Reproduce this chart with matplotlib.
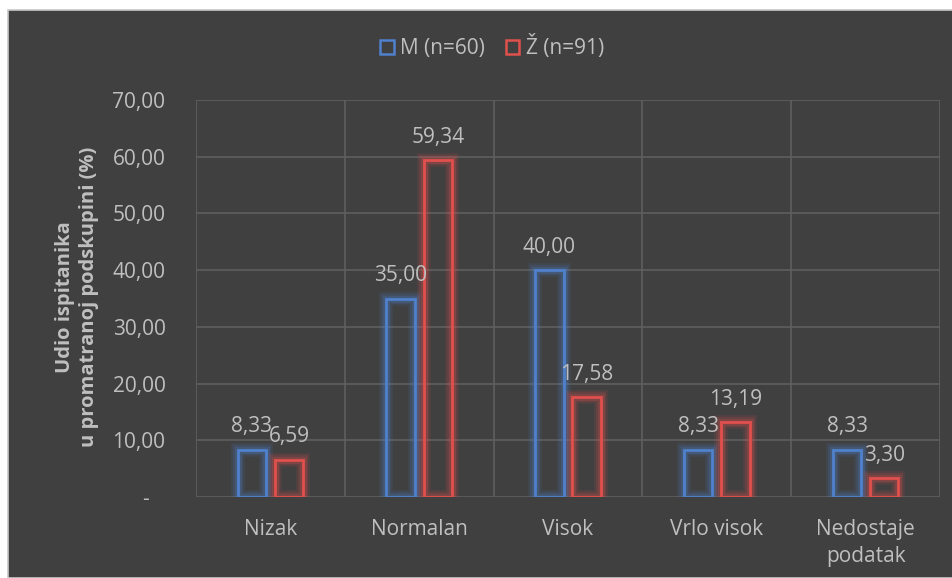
import matplotlib.pyplot as plt
import matplotlib.patches as pc
import numpy as np

kategorije = ["Nizak", "Normalan", "Visok", "Vrlo visok", "Nedostaje\npodatak"]
muski = [8.33, 35.00, 40.00, 8.33, 8.33]
zene = [6.59, 59.34, 17.58, 13.19, 3.30]
oznake = ["M (n=60)", "Ž (n=91)"]
y_ticks = [0, 10, 20, 30, 40, 50, 60, 70]

plt.rcParams['font.family'] = ['Open Sans', 'DejaVu Sans']

bg = '#404040'
txt = '#bfbfbf'
plava = '#4f81cc'
crvena = '#e0504c'
fs = 15

fig = plt.figure(figsize=(9.52, 5.78), dpi=100, facecolor='white')
# tamna pozadina s rubom
fig.add_artist(pc.Rectangle((8 / 952, 0), 1, 1 - 10 / 578, transform=fig.transFigure,
                            facecolor=bg, edgecolor='#c8c8c8', linewidth=1.2, zorder=-5))

ax = fig.add_axes([196 / 952, 81 / 578, 744 / 952, 397 / 578])
ax.patch.set_alpha(0)

x = np.arange(len(kategorije))
w = 0.19
off = 0.125

for vals, col, dx in [(muski, plava, -off), (zene, crvena, off)]:
    # sjaj oko stupaca
    for lw, a in [(10, 0.10), (7.5, 0.14), (5, 0.22)]:
        ax.bar(x + dx, vals, w, fill=False, edgecolor=col, linewidth=lw, alpha=a, zorder=2)
    ax.bar(x + dx, vals, w, fill=False, edgecolor=col, linewidth=2, zorder=3)
    for xi, v in zip(x + dx, vals):
        ax.text(xi, v + 2.2, f"{v:.2f}".replace('.', ','), ha='center', va='bottom',
                color=txt, fontsize=fs, zorder=4)

ax.set_xlim(-0.5, len(kategorije) - 0.5)
ax.set_ylim(0, 70)
ax.set_yticks(y_ticks)
ax.set_yticklabels([f"{t:.2f}".replace('.', ',') if t else "-   " for t in y_ticks])
ax.set_xticks(x)
ax.set_xticklabels(kategorije, linespacing=1.35)
ax.set_xticks(np.arange(len(kategorije) + 1) - 0.5, minor=True)
ax.tick_params(axis='both', which='both', length=0, colors=txt, labelsize=fs)
ax.tick_params(axis='y', pad=22)
ax.tick_params(axis='x', pad=16)
ax.grid(axis='y', color='#5f5f5f', linewidth=1.2, zorder=0)
ax.grid(axis='x', which='minor', color='#5f5f5f', linewidth=1.2, zorder=0)
ax.set_axisbelow(True)
for s in ax.spines.values():
    s.set_visible(False)

fig.text(77 / 952, 1 - 297 / 578, "Udio ispitanika\nu promatranoj podskupini (%)",
         rotation=90, ha='center', va='center', multialignment='center',
         color=txt, fontsize=14.5, fontweight='bold', linespacing=1.25)

handles = [pc.Patch(facecolor='none', edgecolor=plava, linewidth=1.8),
           pc.Patch(facecolor='none', edgecolor=crvena, linewidth=1.8)]
fig.legend(handles, oznake, loc='center', bbox_to_anchor=(492 / 952, 1 - 47 / 578), ncol=2,
           frameon=False, labelcolor=txt, fontsize=fs, handlelength=0.65, handleheight=0.65,
           handletextpad=0.3, columnspacing=1.0)

fig.savefig('out.png', dpi=100, facecolor='white')
